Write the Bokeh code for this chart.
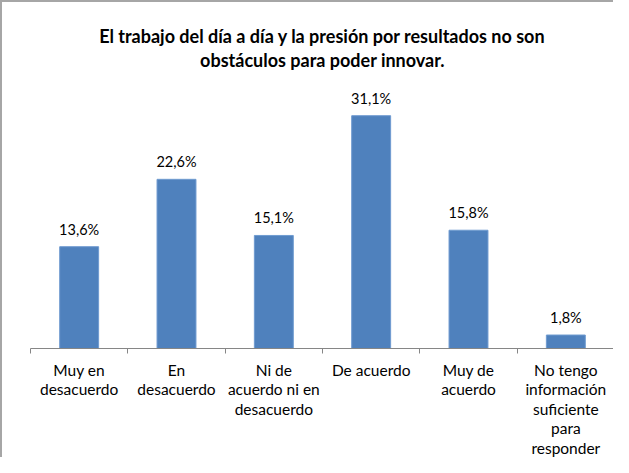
from bokeh.plotting import figure
from bokeh.models import ColumnDataSource, FixedTicker, Range1d, Title
from bokeh.embed import file_html
from bokeh.resources import INLINE
from bokeh.core.properties import value

categories = ["Muy en\ndesacuerdo", "En\ndesacuerdo", "Ni de\nacuerdo ni en\ndesacuerdo",
              "De acuerdo", "Muy de\nacuerdo", "No tengo\ninformación\nsuficiente\npara\nresponder"]
values = [13.6, 22.6, 15.1, 31.1, 15.8, 1.8]
labels = ["13,6%", "22,6%", "15,1%", "31,1%", "15,8%", "1,8%"]
title_line1 = "El trabajo del día a día y la presión por resultados no son"
title_line2 = "obstáculos para poder innovar."

xs = [i + 0.5 for i in range(len(values))]
src = ColumnDataSource(dict(x=xs, top=values, lab=labels))

W, H = 613, 457
p = figure(width=W, height=H, output_backend="svg", toolbar_location=None,
           x_range=Range1d(0, 6), y_range=Range1d(0, 34.6),
           min_border_left=28, min_border_right=1, min_border_top=87, min_border_bottom=110,
           styles={"border-left": "2px solid #a6a6a6", "border-top": "2px solid #a6a6a6"})
p.outline_line_color = None
p.xgrid.visible = False
p.ygrid.visible = False
p.yaxis.visible = False
p.title.visible = False

spacer = Title(text=" ", text_font_size="1px", standoff=16)
t2 = Title(text=title_line2, align="center", text_font="Lato", text_font_style="bold",
           text_font_size="18px", text_color="#000000", standoff=0)
t1 = Title(text=title_line1, align="center", text_font="Lato", text_font_style="bold",
           text_font_size="18px", text_color="#000000", standoff=0)
p.add_layout(spacer, "above")
p.add_layout(t2, "above")
p.add_layout(t1, "above")

p.vbar(x="x", top="top", width=0.4, bottom=0, source=src,
       fill_color="#4F81BD", line_color="#6f9bd0", line_width=1)
p.text(x="x", y="top", text="lab", source=src, text_align="center",
       text_baseline="bottom", y_offset=-9, text_font=value("Lato"),
       text_font_size="14.5px", text_color="#000000")

ax = p.xaxis[0]
ax.ticker = FixedTicker(ticks=xs, minor_ticks=list(range(7)))
ax.major_label_overrides = {x: c for x, c in zip(xs, categories)}
ax.major_tick_out = 0
ax.major_tick_in = 0
ax.minor_tick_out = 5
ax.minor_tick_in = 0
ax.minor_tick_line_color = "#868686"
ax.axis_line_color = "#868686"
ax.major_label_text_font = "Lato"
ax.major_label_text_font_size = "15.5px"
ax.major_label_text_color = "#000000"
ax.major_label_text_line_height = 1.09
ax.major_label_standoff = 7
ax.major_label_orientation = "horizontal"

open("out.html", "w").write(file_html(p, INLINE))
